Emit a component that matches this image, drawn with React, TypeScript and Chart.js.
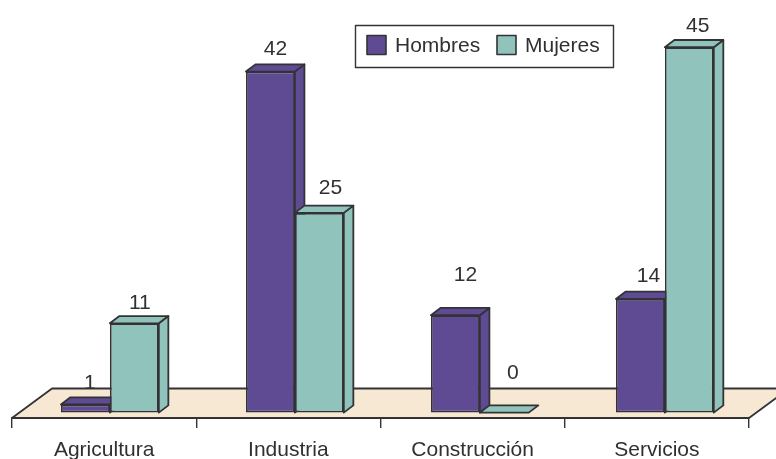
import React, { useEffect, useRef } from "react";
import { Chart, registerables } from "chart.js";

Chart.register(...registerables);

const categories = ["Agricultura", "Industria", "Construcción", "Servicios"];
const hombres = [1, 42, 12, 14];
const mujeres = [11, 24.6, 0, 45];

const FONT = '21px "Liberation Sans", Arial, sans-serif';
const INK = "#303030";
const EDGE = "#333336";
const PURPLE = "#5f4b93";
const TEAL = "#90c3bb";
const FLOOR = "#f7e8d3";

const DEPTH_X = 9.5;
const DEPTH_Y = 7.2;
// the bars' front plane sits slightly to the right of the floor's front edge
const FRONT_SCALE = 1.004;
const FRONT_SHIFT = 5.76;

// label nudges relative to the front face of each bar [series][category]
const labelDx = [
  [4.5, 5, 10, 8],
  [5.5, 11, 8.6, 8.5],
];
const labelDy = [
  [-21, -22.8, -40.3, -22.8],
  [-20.5, -24.8, -39.6, -21],
];

function poly(ctx: CanvasRenderingContext2D, pts: number[][], fill: string) {
  ctx.beginPath();
  pts.forEach((p, i) => (i ? ctx.lineTo(p[0], p[1]) : ctx.moveTo(p[0], p[1])));
  ctx.closePath();
  ctx.fillStyle = fill;
  ctx.fill();
  ctx.lineWidth = 1.8;
  ctx.strokeStyle = EDGE;
  ctx.lineJoin = "round";
  ctx.stroke();
}

const floorPlugin = {
  id: "floor",
  beforeDraw(chart: any) {
    const { ctx, chartArea: a } = chart;
    const dx = 40;
    const dy = 29.5;
    poly(
      ctx,
      [
        [a.left, a.bottom],
        [a.left + dx, a.bottom - dy],
        [a.right + dx, a.bottom - dy],
        [a.right, a.bottom],
      ],
      FLOOR
    );
  },
};

const bars3dPlugin = {
  id: "bars3d",
  beforeDatasetDraw() {
    return false;
  },
  afterDatasetsDraw(chart: any) {
    const ctx: CanvasRenderingContext2D = chart.ctx;
    ctx.save();
    const c = chart.scales.x.getPixelForValue(0);
    ctx.transform(FRONT_SCALE, 0, 0, 1, c * (1 - FRONT_SCALE) + FRONT_SHIFT, 0);
    chart.data.datasets.forEach((ds: any, di: number) => {
      const meta = chart.getDatasetMeta(di);
      meta.data.forEach((el: any) => {
        const l = el.x - el.width / 2;
        const r = el.x + el.width / 2;
        const t = el.y;
        const b = el.base;
        if (b - t > 0) {
          poly(ctx, [[r, t], [r + DEPTH_X, t - DEPTH_Y], [r + DEPTH_X, b - DEPTH_Y], [r, b]], ds.backgroundColor);
        }
        poly(ctx, [[l, t], [l + DEPTH_X, t - DEPTH_Y], [r + DEPTH_X, t - DEPTH_Y], [r, t]], ds.backgroundColor);
      });
      meta.controller.draw();
    });
    ctx.font = FONT;
    ctx.fillStyle = INK;
    ctx.textAlign = "center";
    ctx.textBaseline = "middle";
    chart.data.datasets.forEach((ds: any, di: number) => {
      chart.getDatasetMeta(di).data.forEach((el: any, i: number) => {
        ctx.fillText(String(Math.round(ds.data[i])), el.x + labelDx[di][i], el.y + labelDy[di][i]);
      });
    });
    ctx.restore();

    // legend
    const box = { x: 355.5, y: 25.5, w: 258, h: 42 };
    ctx.save();
    ctx.fillStyle = "#ffffff";
    ctx.fillRect(box.x, box.y, box.w, box.h);
    ctx.lineWidth = 1.4;
    ctx.strokeStyle = EDGE;
    ctx.strokeRect(box.x, box.y, box.w, box.h);
    const slots = [367, 497];
    ctx.font = FONT;
    ctx.textAlign = "left";
    ctx.textBaseline = "middle";
    chart.data.datasets.forEach((ds: any, di: number) => {
      ctx.fillStyle = ds.backgroundColor;
      ctx.fillRect(slots[di], 35.5, 19, 19);
      ctx.lineWidth = 1.6;
      ctx.strokeRect(slots[di], 35.5, 19, 19);
      ctx.fillStyle = INK;
      ctx.fillText(ds.label, slots[di] + 28, 46);
    });
    ctx.restore();
  },
};

export default function App() {
  const ref = useRef<HTMLCanvasElement>(null);

  useEffect(() => {
    const chart = new Chart(ref.current!, {
      type: "bar",
      data: {
        labels: categories,
        datasets: [
          { label: "Hombres", data: hombres, backgroundColor: PURPLE, borderColor: EDGE, borderWidth: 1.8, borderSkipped: false },
          { label: "Mujeres", data: mujeres, backgroundColor: TEAL, borderColor: EDGE, borderWidth: 1.8, borderSkipped: false },
        ],
      },
      options: {
        responsive: false,
        animation: false,
        layout: { padding: { left: 12, right: 27, top: 6.6, bottom: 0 } },
        datasets: { bar: { barPercentage: 1, categoryPercentage: 0.529 } },
        plugins: { legend: { display: false }, tooltip: { enabled: false } },
        scales: {
          x: {
            afterFit(scale: any) {
              scale.height = 41;
            },
            border: { display: true, color: EDGE, width: 1.8 },
            grid: { display: true, drawOnChartArea: false, drawTicks: true, tickLength: 10, color: EDGE, lineWidth: 1.4 },
            ticks: { color: INK, font: { family: '"Liberation Sans", Arial, sans-serif', size: 21 }, padding: 10, maxRotation: 0 },
          },
          y: { display: false, min: -0.665, max: 50 },
        },
      },
      plugins: [floorPlugin, bars3dPlugin],
    } as any);
    return () => chart.destroy();
  }, []);

  return (
    <div style={{ position: "fixed", left: 0, top: 0, width: 776, height: 459, background: "#fff" }}>
      <canvas ref={ref} width={776} height={459} style={{ display: "block" }} />
    </div>
  );
}
